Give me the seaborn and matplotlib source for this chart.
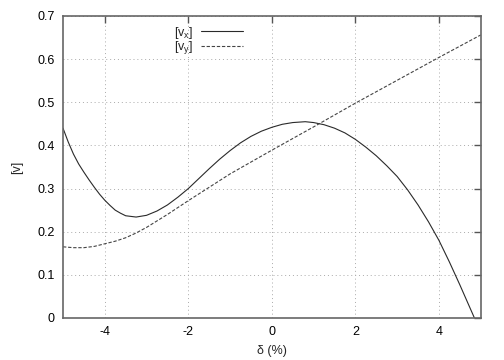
import matplotlib
matplotlib.use("Agg")
import matplotlib.pyplot as plt
import seaborn as sns
import pandas as pd

# data
x_vx = [-5.0, -4.875, -4.75, -4.625, -4.5, -4.375, -4.25, -4.125, -4.0, -3.875, -3.75, -3.625, -3.5,
        -3.25, -3.0, -2.75, -2.5, -2.25, -2.0, -1.75, -1.5, -1.25, -1.0, -0.75, -0.5, -0.25,
        0.0, 0.25, 0.5, 0.8, 1.0, 1.25, 1.5, 1.75, 2.0, 2.25, 2.5, 2.75, 3.0, 3.25, 3.5, 3.75,
        4.0, 4.25, 4.5, 4.85, 5.0]
vx = [0.44, 0.408, 0.38, 0.357, 0.338, 0.32, 0.303, 0.287, 0.273, 0.261, 0.25, 0.243, 0.237,
      0.234, 0.238, 0.248, 0.262, 0.28, 0.30, 0.323, 0.346, 0.368, 0.388, 0.406, 0.421, 0.433,
      0.442, 0.449, 0.453, 0.455, 0.453, 0.448, 0.44, 0.429, 0.414, 0.396, 0.376, 0.353, 0.328,
      0.297, 0.262, 0.223, 0.18, 0.13, 0.077, 0.0, -0.035]
x_vy = [-5.0, -4.75, -4.5, -4.25, -4.0, -3.75, -3.5, -3.25, -3.0, -2.75, -2.5, -2.0, -1.5, -1.0,
        0.0, 1.0, 2.0, 3.0, 4.0, 5.0]
vy = [0.165, 0.163, 0.163, 0.166, 0.172, 0.178, 0.186, 0.197, 0.21, 0.225, 0.24, 0.272, 0.303,
      0.334, 0.389, 0.443, 0.498, 0.551, 0.604, 0.656]
x_ticks = [-4, -2, 0, 2, 4]
y_ticks = [0, 0.1, 0.2, 0.3, 0.4, 0.5, 0.6, 0.7]
y_tick_labels = ["0", "0.1", "0.2", "0.3", "0.4", "0.5", "0.6", "0.7"]

sns.set_style("white")
plt.rcParams['font.family'] = ['Liberation Sans', 'DejaVu Sans']
plt.rcParams['mathtext.fontset'] = 'custom'
plt.rcParams['mathtext.rm'] = 'Liberation Sans'
plt.rcParams['mathtext.it'] = 'Liberation Sans'

df_x = pd.DataFrame({"d": x_vx, "v": vx})
df_y = pd.DataFrame({"d": x_vy, "v": vy})

fig = plt.figure(figsize=(5.04, 3.6), dpi=100)
ax = fig.add_axes([63 / 504, 1 - 318 / 360, (480.7 - 63) / 504, (318 - 16) / 360])

sns.lineplot(data=df_x, x="d", y="v", ax=ax, color="#2a2a2a", linewidth=0.8,
             label="[v$_\\mathregular{x}$]", sort=False)
sns.lineplot(data=df_y, x="d", y="v", ax=ax, color="#444444", linewidth=0.8,
             label="[v$_\\mathregular{y}$]", sort=False)
ax.lines[1].set_dashes([3, 1.6])

ax.set_xlim(-5, 5)
ax.set_ylim(0, 0.7)
ax.set_xticks(x_ticks)
ax.set_xticklabels([str(t) for t in x_ticks])
ax.set_yticks(y_ticks)
ax.set_yticklabels(y_tick_labels)
ax.tick_params(direction="in", length=5, width=1.0, color="#555555", top=True, right=True,
               labelsize=9, pad=6, labelcolor="black")
ax.set_axisbelow(True)
ax.grid(True, color="#aaaaaa", linestyle=(0, (1, 3)), linewidth=0.7)
for s in ax.spines.values():
    s.set_color("#666666")
    s.set_linewidth(1.2)
    s.set_visible(True)

ax.set_xlabel("δ (%)", fontsize=9, labelpad=5)
ax.set_ylabel("[v]", fontsize=9, labelpad=10)

leg = ax.legend(loc="upper left", bbox_to_anchor=(0.245, 1.0), frameon=False, fontsize=9,
                markerfirst=False, handlelength=3.4, handletextpad=0.6, labelspacing=-0.1,
                borderaxespad=0.3)
leg.get_lines()[1].set_dashes([3, 1.6])

fig.savefig("out.png", dpi=100)
